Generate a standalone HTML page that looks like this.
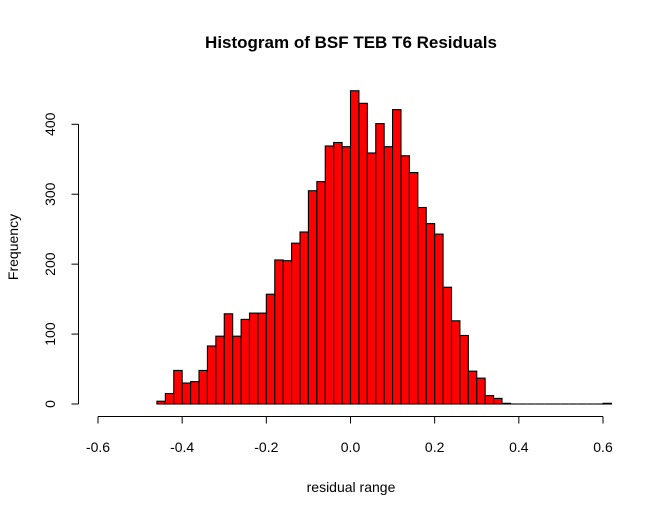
<!DOCTYPE html>
<html><head><meta charset="utf-8"><style>
body{margin:0;background:#fff}
text{font-family:"Liberation Sans",Arial,sans-serif;fill:#000}
</style></head><body>
<svg id="chart" width="664" height="515" xmlns="http://www.w3.org/2000/svg">
<text x="351" y="48" text-anchor="middle" font-size="17" font-weight="bold">Histogram of BSF TEB T6 Residuals</text>
<text x="351" y="492" text-anchor="middle" font-size="14">residual range</text>
<text transform="translate(18,247) rotate(-90)" text-anchor="middle" font-size="14">Frequency</text>
<g id="bars"></g>
<g id="axes"></g>
</svg>
<script>
const binStarts = [-0.46,-0.44,-0.42,-0.40,-0.38,-0.36,-0.34,-0.32,-0.30,-0.28,-0.26,-0.24,-0.22,-0.20,-0.18,-0.16,-0.14,-0.12,-0.10,-0.08,-0.06,-0.04,-0.02,0.00,0.02,0.04,0.06,0.08,0.10,0.12,0.14,0.16,0.18,0.20,0.22,0.24,0.26,0.28,0.30,0.32,0.34,0.36,0.38,0.40,0.42,0.44,0.46,0.48,0.50,0.52,0.54,0.56,0.58,0.60];
const counts = [4,15,48,30,32,48,83,97,129,97,121,130,130,157,206,205,230,246,305,318,369,374,368,448,430,359,401,368,421,355,331,281,258,243,167,119,98,47,37,12,8,1,0,0,0,0,0,0,0,0,0,0,0,1];
const binWidth = 0.02;
const xTicks = [-0.6,-0.4,-0.2,0.0,0.2,0.4,0.6];
const xTickLabels = ["-0.6","-0.4","-0.2","0.0","0.2","0.4","0.6"];
const yTicks = [0,100,200,300,400];
const yTickLabels = ["0","100","200","300","400"];

const NS="http://www.w3.org/2000/svg";
const xs = v => 98 + (v + 0.6) * (603 - 98) / 1.2;
const ys = c => 404 - c * (404 - 124.3) / 400;
const bars = document.getElementById('bars');
const axes = document.getElementById('axes');
function mk(tag, attrs, parent){const e=document.createElementNS(NS,tag);for(const k in attrs)e.setAttribute(k,attrs[k]);parent.appendChild(e);return e;}

binStarts.forEach((b,i)=>{
  const x0=xs(b), x1=xs(b+binWidth), y=ys(counts[i]);
  if(counts[i]===0){
    const l=mk('line',{x1:x0,x2:x1,y1:404,y2:404,stroke:'#000','stroke-width':1.1},bars);
    
    
    return;
  }
  const r=mk('rect',{x:x0,y:y,width:x1-x0,height:404-y,fill:'#ff0000',stroke:'#000','stroke-width':1.1},bars);
  
  
});

const xl=mk('line',{x1:xs(xTicks[0]),x2:xs(xTicks[xTicks.length-1]),y1:416.5,y2:416.5,stroke:'#000'},axes);


xTicks.forEach((t,i)=>{
  const tk=mk('line',{x1:xs(t),x2:xs(t),y1:416.5,y2:423.5,stroke:'#000'},axes);
  
  
  const tx=mk('text',{x:xs(t),y:452,'text-anchor':'middle','font-size':14},axes);
  tx.textContent=xTickLabels[i];
  
  
});
const yl=mk('line',{x1:78.5,x2:78.5,y1:ys(yTicks[0]),y2:ys(yTicks[yTicks.length-1]),stroke:'#000'},axes);


yTicks.forEach((t,i)=>{
  const tk=mk('line',{x1:71.5,x2:78.5,y1:ys(t),y2:ys(t),stroke:'#000'},axes);
  
  
  const tx=mk('text',{transform:`translate(55,${ys(t)}) rotate(-90)`,'text-anchor':'middle','font-size':14},axes);
  tx.textContent=yTickLabels[i];
  
  
});
</script>
</body></html>
